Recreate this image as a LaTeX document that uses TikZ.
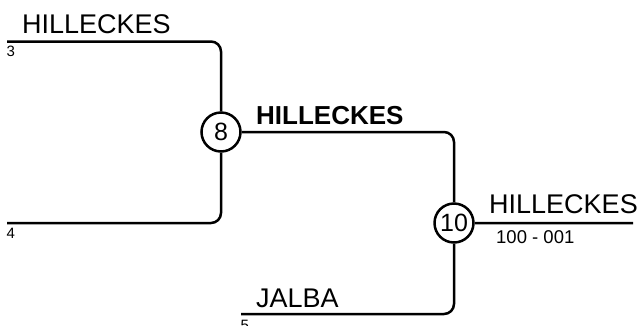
\documentclass[tikz,border=0pt]{standalone}
\usepackage{fontspec}
\setmainfont{Liberation Sans}
\usetikzlibrary{positioning}

\tikzset{
	wire/.style={line width=2.5pt, rounded corners=10pt},
	match/.style={circle, draw, line width=2.5pt, minimum size=39pt, inner sep=0pt, font=\fontsize{25}{28}\selectfont},
	team/.style={anchor=base west, inner sep=0pt, font=\fontsize{27}{30}\selectfont},
	winner/.style={anchor=base west, inner sep=0pt, font=\fontsize{26}{30}\selectfont\bfseries},
	seed/.style={anchor=base west, inner sep=0pt, font=\fontsize{15}{17}\selectfont},
	score/.style={anchor=base west, inner sep=0pt, font=\fontsize{18.5}{21}\selectfont}
}

\begin{document}
\begin{tikzpicture}[x=1pt, y=-1pt]
	\useasboundingbox (0,0) rectangle (642,325);

	\node[match] (m8) at (221,132) {8};
	\node[match] (m10) at (454,223) {10};

	\coordinate (s3) at (7,41.5);
	\coordinate (s4) at (7,223);
	\coordinate (s5) at (241,314);
	\coordinate (out) at (633,223);

	\node[team] (t3) at (22,33) {HILLECKES};
	\node[seed] (n3) at (6.5,56) {3};
	\node[seed] (n4) at (6.5,238) {4};
	\node[team] (t5) at (256,307) {JALBA};
	\node[seed] (n5) at (240.5,330) {5};
	\node[winner] (w8) at (256,124) {HILLECKES};
	\node[team] (w10) at (489,213) {HILLECKES};
	\node[score] (r10) at (496,243) {100 - 001};

	\draw[wire]
		(s3) -| (m8)
		(s4) -| (m8)
		(m8) -| (m10)
		(s5) -| (m10)
		(m10) -- (out);
\end{tikzpicture}
\end{document}
